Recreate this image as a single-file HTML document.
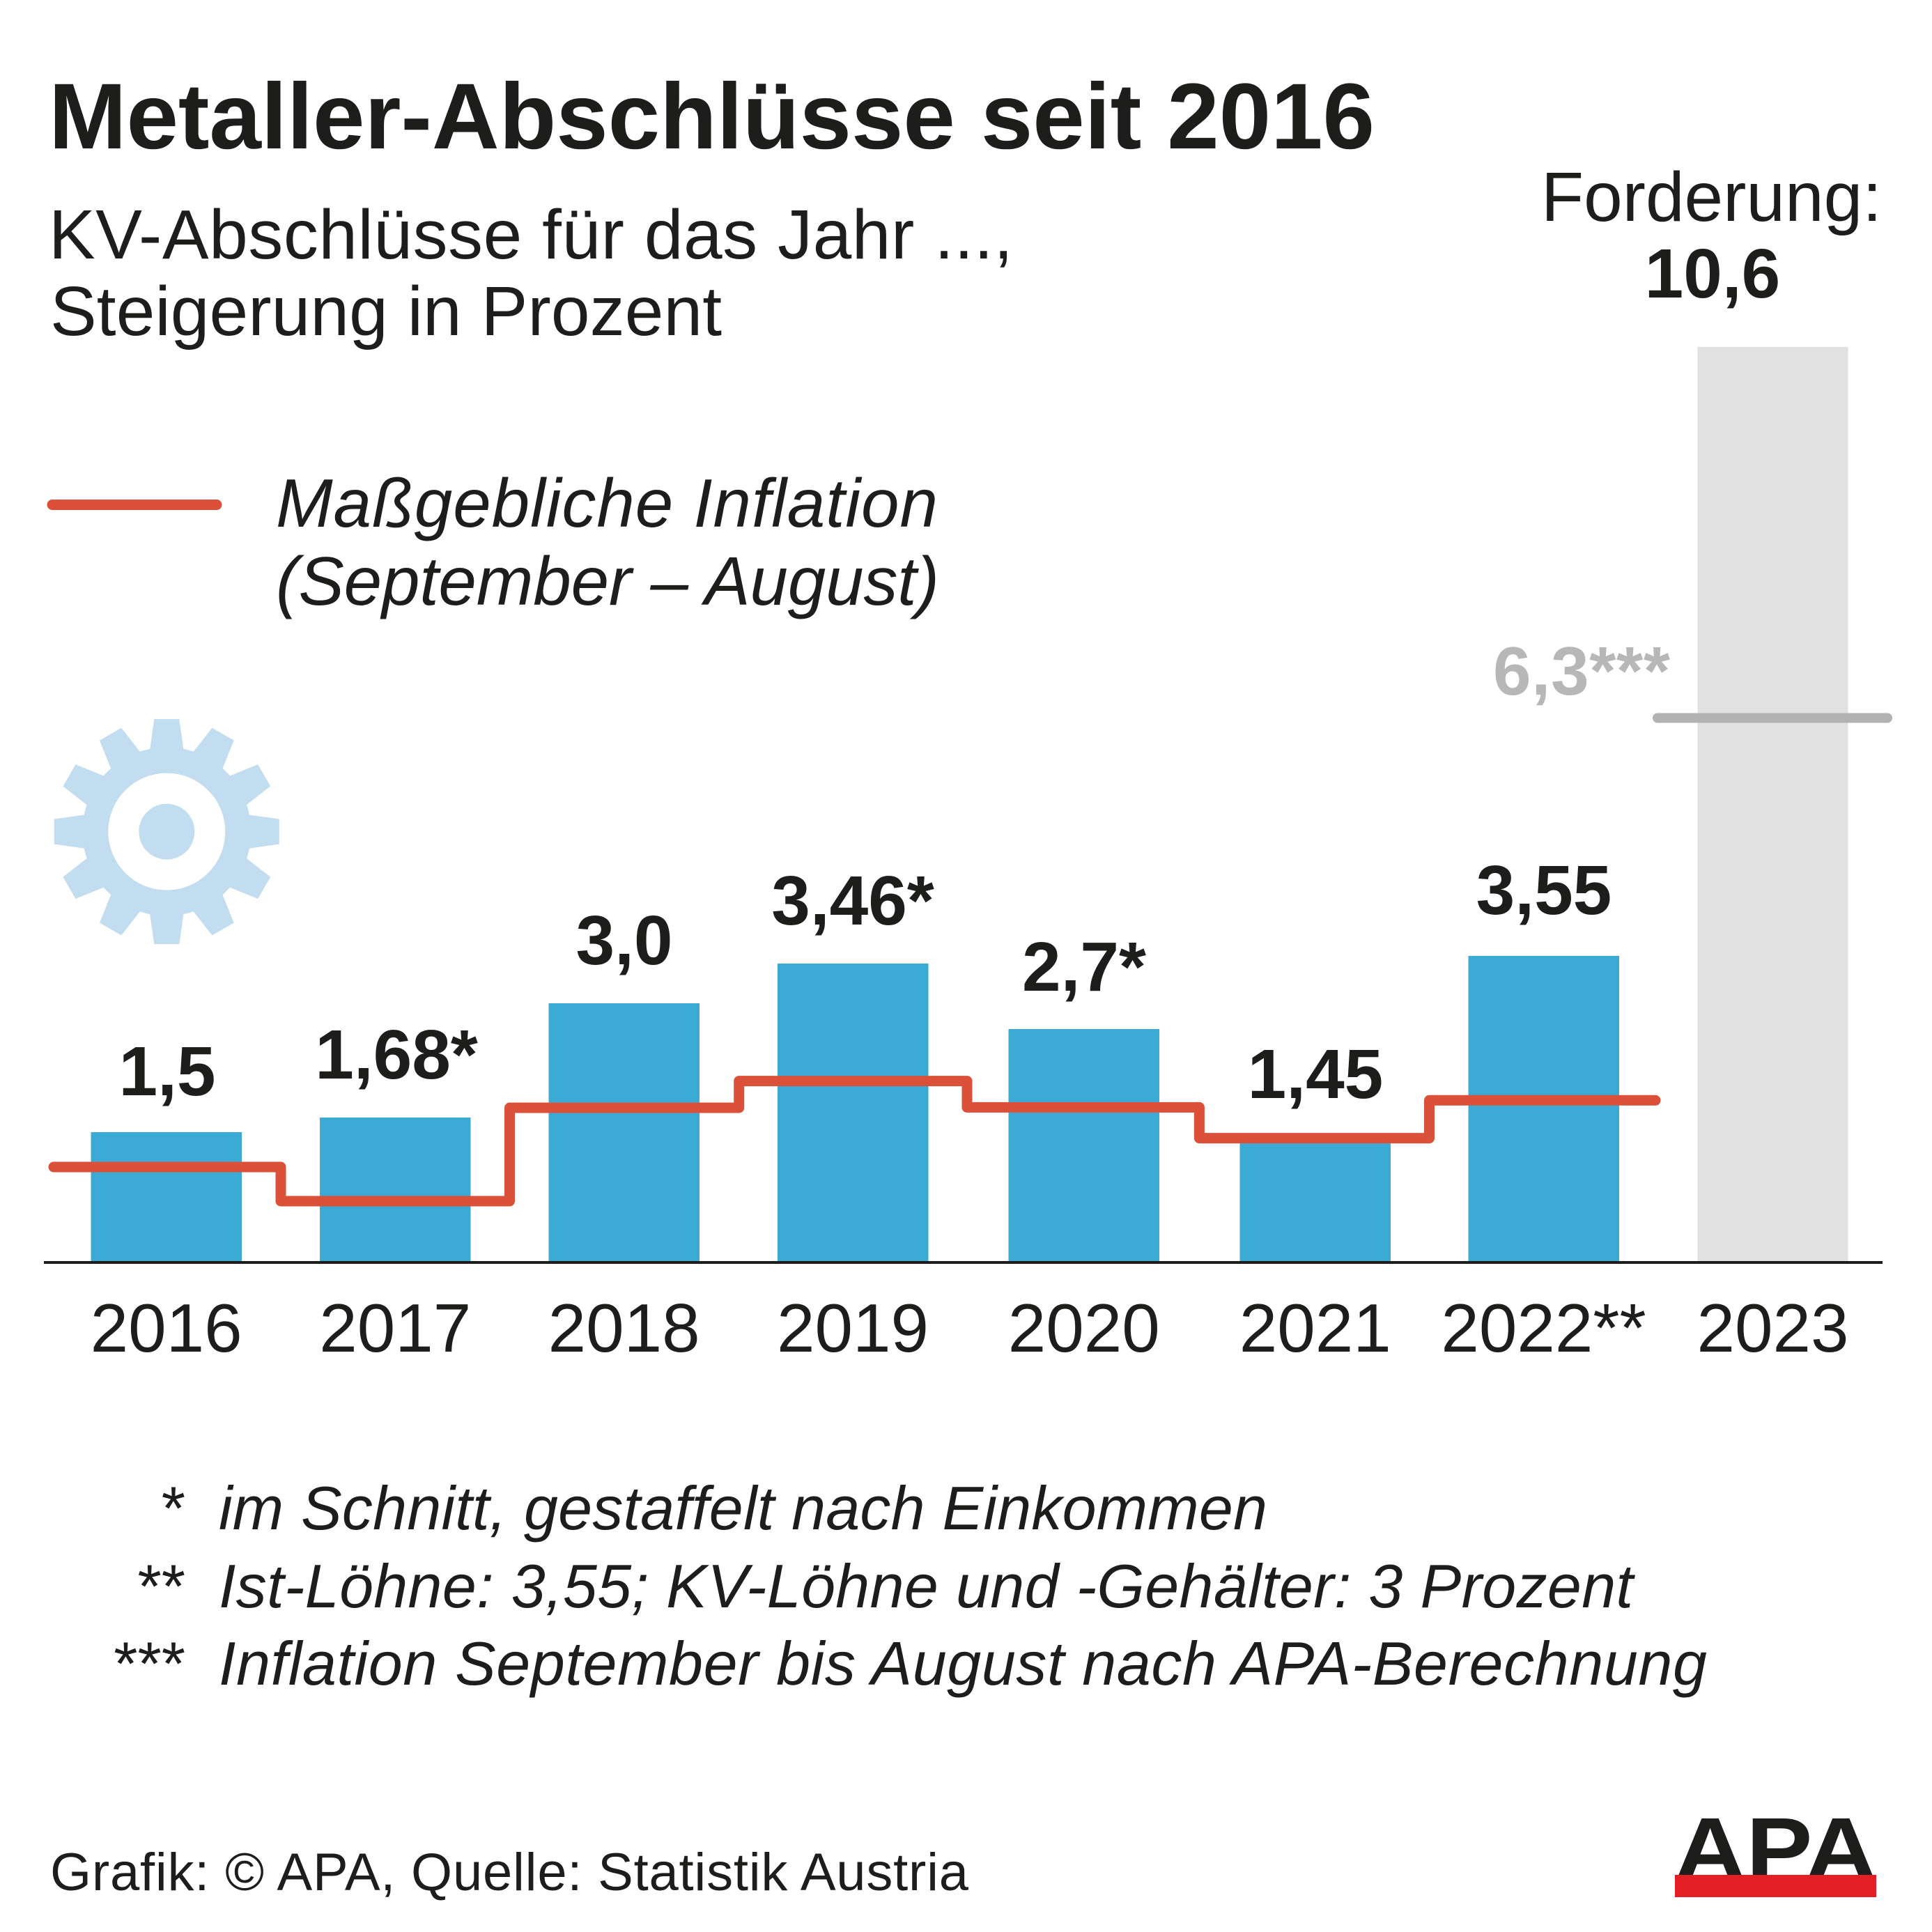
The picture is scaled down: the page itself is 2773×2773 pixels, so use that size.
<!DOCTYPE html>
<html>
<head>
<meta charset="utf-8">
<style>
  html, body { margin:0; padding:0; background:#ffffff; }
  body { width:2773px; height:2773px; overflow:hidden; }
  svg { display:block; }
  text { font-family: "Liberation Sans", Arial, sans-serif; fill:#1d1d1b; }
  .b { font-weight:bold; }
  .i { font-style:italic; }
</style>
</head>
<body>
<svg width="2773" height="2773" viewBox="0 0 2773 2773" xmlns="http://www.w3.org/2000/svg">
  <rect x="0" y="0" width="2773" height="2773" fill="#ffffff"/>

  <!-- Title -->
  <text class="b" x="70" y="213" font-size="134" textLength="1903" lengthAdjust="spacing">Metaller-Abschlüsse seit 2016</text>

  <!-- Subtitle -->
  <text x="70" y="371" font-size="100" textLength="1384" lengthAdjust="spacing">KV-Abschlüsse für das Jahr ...,</text>
  <text x="72" y="481" font-size="100" textLength="964" lengthAdjust="spacing">Steigerung in Prozent</text>

  <!-- Forderung -->
  <text x="2212" y="317" font-size="100" textLength="489" lengthAdjust="spacing">Forderung:</text>
  <text class="b" x="2458" y="427" font-size="100" text-anchor="middle">10,6</text>

  <!-- Legend -->
  <line x1="75" y1="724.5" x2="311" y2="724.5" stroke="#db5038" stroke-width="15" stroke-linecap="round"/>
  <text class="i" x="396" y="756" font-size="98" textLength="950" lengthAdjust="spacing">Maßgebliche Inflation</text>
  <text class="i" x="396" y="868" font-size="98" textLength="952" lengthAdjust="spacing">(September – August)</text>

  <!-- Gear -->
  <g transform="translate(239.3,1193.6)" fill="#c1ddef">
    <circle cx="0" cy="0" r="121"/>
    <g id="tooth"><polygon points="-25,-112 -18,-161.5 18,-161.5 25,-112"/></g>
    <polygon points="-25,-112 -18,-161.5 18,-161.5 25,-112" transform="rotate(30)"/>
    <polygon points="-25,-112 -18,-161.5 18,-161.5 25,-112" transform="rotate(60)"/>
    <polygon points="-25,-112 -18,-161.5 18,-161.5 25,-112" transform="rotate(90)"/>
    <polygon points="-25,-112 -18,-161.5 18,-161.5 25,-112" transform="rotate(120)"/>
    <polygon points="-25,-112 -18,-161.5 18,-161.5 25,-112" transform="rotate(150)"/>
    <polygon points="-25,-112 -18,-161.5 18,-161.5 25,-112" transform="rotate(180)"/>
    <polygon points="-25,-112 -18,-161.5 18,-161.5 25,-112" transform="rotate(210)"/>
    <polygon points="-25,-112 -18,-161.5 18,-161.5 25,-112" transform="rotate(240)"/>
    <polygon points="-25,-112 -18,-161.5 18,-161.5 25,-112" transform="rotate(270)"/>
    <polygon points="-25,-112 -18,-161.5 18,-161.5 25,-112" transform="rotate(300)"/>
    <polygon points="-25,-112 -18,-161.5 18,-161.5 25,-112" transform="rotate(330)"/>
    <circle cx="0" cy="0" r="84" fill="#ffffff"/>
    <circle cx="0" cy="0" r="40" fill="#c1ddef"/>
  </g>

  <!-- 2023 grey bar + 6,3 line -->
  <rect x="2436.5" y="498" width="216" height="1313" fill="#e1e1e1"/>
  <line x1="2379" y1="1030.5" x2="2709" y2="1030.5" stroke="#b2b2b2" stroke-width="14" stroke-linecap="round"/>
  <text class="b" x="2143" y="997" font-size="98" fill="#b7b7b7" style="fill:#b7b7b7" textLength="254" lengthAdjust="spacing">6,3***</text>

  <!-- Blue bars -->
  <g fill="#3babd6">
    <rect x="130.5" y="1625" width="216.5" height="186"/>
    <rect x="459" y="1604" width="216.5" height="207"/>
    <rect x="787.5" y="1440" width="216.5" height="371"/>
    <rect x="1116" y="1383" width="216.5" height="428"/>
    <rect x="1447.5" y="1477" width="216.5" height="334"/>
    <rect x="1779.5" y="1639" width="216.5" height="172"/>
    <rect x="2107.5" y="1372" width="216.5" height="439"/>
  </g>

  <!-- Inflation step line -->
  <path d="M 77 1675 H 403 V 1724 H 731.5 V 1590 H 1060.7 V 1551.6 H 1388 V 1589.4 H 1721.4 V 1633.6 H 2051.5 V 1579.3 H 2376"
        fill="none" stroke="#db5038" stroke-width="15" stroke-linecap="round" stroke-linejoin="round"/>

  <!-- Axis -->
  <line x1="63" y1="1812" x2="2702" y2="1812" stroke="#1d1d1b" stroke-width="4"/>

  <!-- Value labels -->
  <g class="b" font-size="100" text-anchor="middle">
    <text class="b" x="240" y="1572">1,5</text>
    <text class="b" x="569" y="1548">1,68*</text>
    <text class="b" x="896" y="1384">3,0</text>
    <text class="b" x="1224" y="1327">3,46*</text>
    <text class="b" x="1556" y="1422">2,7*</text>
    <text class="b" x="1888" y="1576">1,45</text>
    <text class="b" x="2216" y="1312">3,55</text>
  </g>

  <!-- Year labels -->
  <g font-size="98" text-anchor="middle">
    <text x="238.6" y="1940">2016</text>
    <text x="567.3" y="1940">2017</text>
    <text x="895.6" y="1940">2018</text>
    <text x="1224" y="1940">2019</text>
    <text x="1555.7" y="1940">2020</text>
    <text x="1887.7" y="1940">2021</text>
    <text x="2215.5" y="1940">2022**</text>
    <text x="2544.5" y="1940">2023</text>
  </g>

  <!-- Footnotes -->
  <g font-size="88">
    <text x="266" y="2195" text-anchor="end">*</text>
    <text x="266" y="2307" text-anchor="end">**</text>
    <text x="266" y="2418" text-anchor="end">***</text>
    <text class="i" x="314" y="2195" textLength="1505" lengthAdjust="spacing">im Schnitt, gestaffelt nach Einkommen</text>
    <text class="i" x="314" y="2307" textLength="2030" lengthAdjust="spacing">Ist-Löhne: 3,55; KV-Löhne und -Gehälter: 3 Prozent</text>
    <text class="i" x="314" y="2418" textLength="2136" lengthAdjust="spacing">Inflation September bis August nach APA-Berechnung</text>
  </g>

  <!-- Footer -->
  <text x="72" y="2713" font-size="76" textLength="1318" lengthAdjust="spacing">Grafik: © APA, Quelle: Statistik Austria</text>

  <!-- APA logo -->
  <text class="b" x="2403" y="2698" font-size="128" textLength="291" lengthAdjust="spacingAndGlyphs">APA</text>
  <rect x="2404" y="2691" width="289" height="32" fill="#e31e24"/>
</svg>
</body>
</html>
